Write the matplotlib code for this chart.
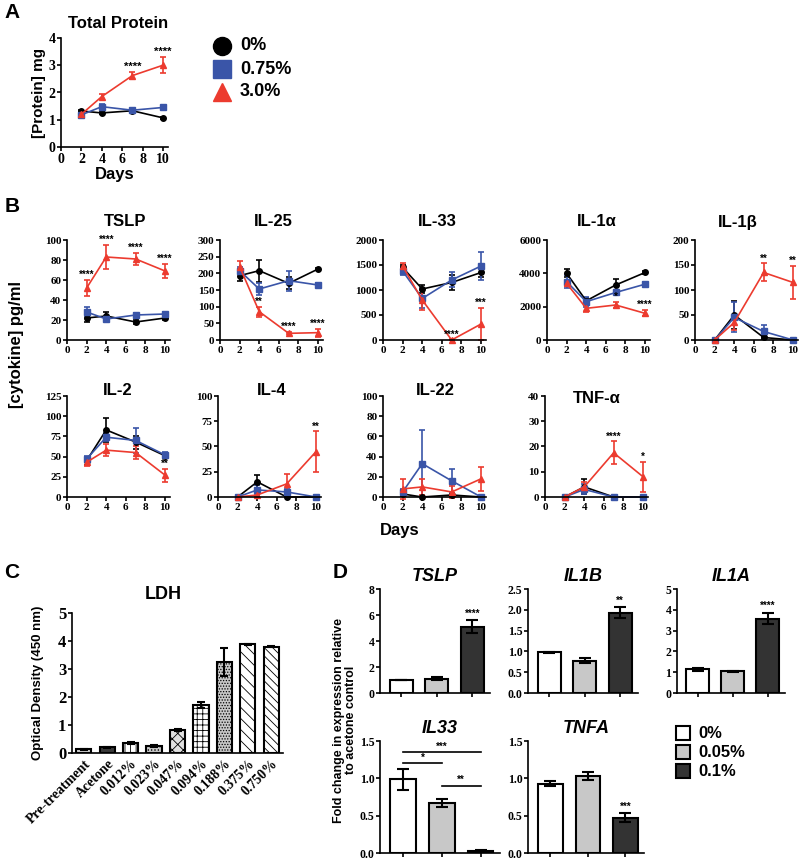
import matplotlib.pyplot as plt

plt.rcParams['font.family'] = 'Liberation Serif'
plt.rcParams['font.weight'] = 'bold'
plt.rcParams['axes.labelweight'] = 'bold'
plt.rcParams['axes.titleweight'] = 'bold'
plt.rcParams['hatch.linewidth'] = 0.6
SANS = 'Liberation Sans'

W, H = 800, 863

# ---- Panel A / B data (days 2, 4, 7, 10; groups 0%, 0.75%, 3.0%)
days = [2, 4, 7, 10]
groups = ['0%', '0.75%', '3.0%']
colors = ['black', '#3a55a8', '#ec3b2f']
markers = ['o', 's', '^']

protein_mean = [[1.32, 1.25, 1.33, 1.07], [1.18, 1.48, 1.35, 1.45], [1.20, 1.85, 2.62, 3.00]]
protein_err = [[0.04, 0.04, 0.04, 0.03], [0.05, 0.08, 0.05, 0.05], [0.05, 0.08, 0.12, 0.30]]
protein_stars = ['', '', '****', '****']

cytokines = ['TSLP', 'IL-25', 'IL-33', 'IL-1α', 'IL-1β', 'IL-2', 'IL-4', 'IL-22', 'TNF-α']
tslp_mean = [[22, 24, 18, 22], [28, 21, 25, 26], [52, 83, 81, 69]]
tslp_err = [[4, 4, 2, 2], [5, 2, 2, 2], [8, 12, 6, 7]]
tslp_stars = ['****', '****', '****', '****']
il25_mean = [[193, 208, 170, 213], [208, 153, 178, 165], [220, 85, 20, 22]]
il25_err = [[15, 33, 18, 4], [10, 18, 30, 6], [18, 15, 3, 12]]
il25_stars = ['', '**', '****', '****']
il33_mean = [[1450, 1020, 1150, 1350], [1380, 830, 1200, 1480], [1480, 800, 0, 320]]
il33_err = [[50, 80, 150, 100], [80, 200, 150, 280], [50, 200, 10, 320]]
il33_stars = ['', '', '****', '***']
il1a_mean = [[4000, 2350, 3300, 4050], [3500, 2300, 2850, 3350], [3400, 1900, 2100, 1600]]
il1a_err = [[250, 150, 350, 80], [400, 300, 150, 120], [150, 200, 200, 180]]
il1a_stars = ['', '', '*', '****']
il1b_mean = [[0, 50, 5, 0], [0, 45, 17, 0], [0, 35, 135, 115]]
il1b_err = [[0, 28, 3, 0], [0, 30, 12, 0], [0, 15, 18, 33]]
il1b_stars = ['', '', '**', '**']
il2_mean = [[45, 83, 68, 51], [47, 74, 70, 52], [43, 58, 55, 27]]
il2_err = [[5, 15, 8, 3], [4, 5, 16, 4], [5, 7, 8, 8]]
il2_stars = ['', '', '', '**']
il4_mean = [[0, 15, 0, 0], [0, 7, 5, 0], [0, 2, 13, 45]]
il4_err = [[0, 7, 0, 0], [0, 5, 3, 0], [0, 2, 10, 20]]
il4_stars = ['', '', '', '**']
il22_mean = [[3, 0, 2, 0], [5, 33, 16, 0], [8, 10, 5, 18]]
il22_err = [[2, 0, 1, 0], [3, 33, 12, 0], [10, 8, 6, 12]]
il22_stars = ['', '', '', '']
tnfa_mean = [[0, 4, 0, 0], [0, 3, 0, 0], [0, 4, 17.5, 8]]
tnfa_err = [[0, 3, 0, 0], [0, 2, 0, 0], [0, 2, 4.5, 6]]
tnfa_stars = ['', '', '****', '*']

# ---- Panel C data
ldh_labels = ['Pre-treatment', 'Acetone', '0.012%', '0.023%', '0.047%',
              '0.094%', '0.188%', '0.375%', '0.750%']
ldh_mean = [0.13, 0.20, 0.36, 0.25, 0.82, 1.72, 3.25, 3.88, 3.80]
ldh_err = [0.01, 0.02, 0.05, 0.03, 0.03, 0.10, 0.50, 0.01, 0.02]

# ---- Panel D data (0%, 0.05%, 0.1%)
dose_labels = ['0%', '0.05%', '0.1%']
dose_colors = ['white', '#c8c8c8', '#333333']
tslp_fc = [1.00, 1.10, 5.10]
tslp_fc_err = [0.03, 0.10, 0.50]
il1b_fc = [0.98, 0.78, 1.93]
il1b_fc_err = [0.01, 0.06, 0.13]
il1a_fc = [1.15, 1.05, 3.58]
il1a_fc_err = [0.07, 0.02, 0.28]
il33_fc = [0.99, 0.67, 0.03]
il33_fc_err = [0.14, 0.05, 0.01]
tnfa_fc = [0.93, 1.03, 0.47]
tnfa_fc_err = [0.03, 0.05, 0.06]


fig = plt.figure(figsize=(W / 100, H / 100), dpi=100)


def px_axes(left, top, width, height):
    return fig.add_axes([left / W, 1 - (top + height) / H, width / W, height / H])


def ftext(x, y, s, **kw):
    fig.text(x / W, 1 - y / H, s, **kw)


def style(ax, fs=8):
    ax.spines[['top', 'right']].set_visible(False)
    ax.spines[['left', 'bottom']].set_linewidth(1.2)
    ax.tick_params(direction='out', length=3, width=1.2, labelsize=fs, pad=1)


def line_panel(ax, mean, err, stars, ymax, ystep, fs=8, star_fs=7):
    for g in range(3):
        ax.errorbar(days, mean[g], yerr=err[g], color=colors[g], marker=markers[g],
                    ms=4, lw=1.2, capsize=2.5, elinewidth=1.2, capthick=1.2, clip_on=False)
    for d, s, m, e in zip(days, stars, mean[2], err[2]):
        if s:
            ax.annotate(s, (d, m + e), xytext=(0, 0), textcoords='offset points',
                        ha='center', va='bottom', fontsize=star_fs, family=SANS)
    ax.set_xlim(0, 10.5)
    ax.set_ylim(0, ymax)
    ax.set_xticks([0, 2, 4, 6, 8, 10])
    ax.set_yticks(list(range(0, ymax + 1, ystep)))
    style(ax, fs)


# ---------------- Panel A
axA = px_axes(61, 38, 107, 109)
line_panel(axA, protein_mean, protein_err, protein_stars, 4, 1, fs=10, star_fs=8)
axA.set_xlabel('Days', family=SANS, fontsize=12, labelpad=1)
axA.set_ylabel('[Protein] mg', family=SANS, fontsize=11, labelpad=2)
ftext(118, 23, 'Total Protein', family=SANS, fontsize=12, ha='center', va='center')
ftext(12, 12, 'A', family=SANS, fontsize=15, ha='center', va='center')
for g in range(3):
    fig.lines.append(plt.Line2D([222 / W], [1 - (46 + 23 * g) / H], transform=fig.transFigure,
                                marker=markers[g], color=colors[g], ms=13, ls='none'))
    ftext(240, 46 + 23 * g, groups[g], family=SANS, fontsize=13, va='center')

# ---------------- Panel B
ftext(12, 207, 'B', family=SANS, fontsize=15, ha='center', va='center')
row1 = [(tslp_mean, tslp_err, tslp_stars, 100, 20), (il25_mean, il25_err, il25_stars, 300, 50),
        (il33_mean, il33_err, il33_stars, 2000, 500), (il1a_mean, il1a_err, il1a_stars, 6000, 2000),
        (il1b_mean, il1b_err, il1b_stars, 200, 50)]
row2 = [(il2_mean, il2_err, il2_stars, 125, 25), (il4_mean, il4_err, il4_stars, 100, 25),
        (il22_mean, il22_err, il22_stars, 100, 20), (tnfa_mean, tnfa_err, tnfa_stars, 40, 10)]
row1_x = [67, 220, 383, 547, 695]
row2_x = [67, 218, 383, 545]
row1_title = [(125, 222), (273, 222), (437, 222), (597, 222), (738, 222)]
row2_title = [(118, 390), (272, 390), (435, 390), (597, 398)]

for i, (m, e, s, ymax, ystep) in enumerate(row1):
    ax = px_axes(row1_x[i], 240, 103, 100)
    line_panel(ax, m, e, s, ymax, ystep)
    tx, ty = row1_title[i]
    ftext(tx, ty, cytokines[i], family=SANS, fontsize=12, ha='center', va='center')
for i, (m, e, s, ymax, ystep) in enumerate(row2):
    ax = px_axes(row2_x[i], 396, 103, 101)
    line_panel(ax, m, e, s, ymax, ystep)
    tx, ty = row2_title[i]
    ftext(tx, ty, cytokines[5 + i], family=SANS, fontsize=12, ha='center', va='center')

ftext(17, 345, '[cytokine] pg/ml', family=SANS, fontsize=12, rotation=90, ha='center', va='center')
ftext(400, 530, 'Days', family=SANS, fontsize=12, ha='center', va='center')

# ---------------- Panel C
ftext(12, 572, 'C', family=SANS, fontsize=15, ha='center', va='center')
axC = px_axes(72, 613, 211, 140)
ldh_face = ['#d0d0d0', '#3a3a3a', 'white', '#c8c8c8', '#e0e0e0', 'white', '#c8c8c8', 'white', 'white']
ldh_hatch = [None, None, '|||', '.....', 'xxx', '+++', '......', '\\\\\\', '\\\\\\\\']
xs = list(range(len(ldh_labels)))
bars = axC.bar(xs, ldh_mean, width=0.65, color=ldh_face, edgecolor='black', linewidth=1.5)
for b, h in zip(bars, ldh_hatch):
    if h:
        b.set_hatch(h)
axC.errorbar(xs, ldh_mean, yerr=ldh_err, fmt='none', ecolor='black', capsize=3,
             elinewidth=1.5, capthick=1.5)
axC.set_xlim(-0.5, 8.5)
axC.set_ylim(0, 5)
axC.set_yticks([0, 1, 2, 3, 4, 5])
style(axC, 12)
axC.set_xticks(xs)
axC.set_xticklabels(ldh_labels, rotation=45, ha='right', rotation_mode='anchor', fontsize=10)
axC.tick_params(axis='x', length=0, pad=3)
ftext(163, 594, 'LDH', family=SANS, fontsize=13, ha='center', va='center')
ftext(38, 683, 'Optical Density (450 nm)', family=SANS, fontsize=9.5, rotation=90,
      ha='center', va='center')

# ---------------- Panel D
ftext(340, 572, 'D', family=SANS, fontsize=15, ha='center', va='center')
d_panels = [('TSLP', tslp_fc, tslp_fc_err, 8, 2, '****', (380, 589, 110, 104)),
            ('IL1B', il1b_fc, il1b_fc_err, 2.5, 0.5, '**', (528, 589, 110, 104)),
            ('IL1A', il1a_fc, il1a_fc_err, 5, 1, '****', (677, 589, 108, 104)),
            ('IL33', il33_fc, il33_fc_err, 1.5, 0.5, '', (380, 741, 120, 112)),
            ('TNFA', tnfa_fc, tnfa_fc_err, 1.5, 0.5, '***', (528, 741, 116, 112))]
for name, vals, errs, ymax, ystep, star, box in d_panels:
    ax = px_axes(*box)
    ax.bar([0, 1, 2], vals, width=0.66, color=dose_colors, edgecolor='black', linewidth=1.5)
    ax.errorbar([0, 1, 2], vals, yerr=errs, fmt='none', ecolor='black', capsize=4,
                elinewidth=1.5, capthick=1.5)
    ax.set_xlim(-0.6, 2.5)
    ax.set_ylim(0, ymax)
    n = int(round(ymax / ystep))
    ax.set_yticks([ystep * k for k in range(n + 1)])
    if ystep < 1:
        ax.set_yticklabels([f'{ystep * k:.1f}' for k in range(n + 1)])
    style(ax, 8.5)
    ax.set_xticks([0, 1, 2])
    ax.set_xticklabels([])
    if star:
        ax.annotate(star, (2, vals[2] + errs[2]), xytext=(0, 1), textcoords='offset points',
                    ha='center', va='bottom', fontsize=7, family=SANS)
    ax.set_title(name, family=SANS, style='italic', fontsize=13, pad=6)
    if name == 'IL33':
        for x0, x1, y, s in [(0, 1, 1.2, '*'), (0, 2, 1.35, '***'), (1, 2, 0.9, '**')]:
            ax.plot([x0, x1], [y, y], color='black', lw=1.2)
            ax.text((x0 + x1) / 2, y + 0.01, s, ha='center', va='bottom', fontsize=7, family=SANS)

ftext(345, 720, 'Fold change in expression relative\nto acetone control', family=SANS,
      fontsize=9, rotation=90, ha='center', va='center', linespacing=1.0)
for k in range(3):
    fig.lines.append(plt.Line2D([683 / W], [1 - (733 + 19 * k) / H], transform=fig.transFigure,
                                marker='s', mfc=dose_colors[k], mec='black', mew=1.5, ms=10, ls='none'))
    ftext(698, 733 + 19 * k, dose_labels[k], family=SANS, fontsize=12, va='center')

fig.savefig('out.png', dpi=100)
